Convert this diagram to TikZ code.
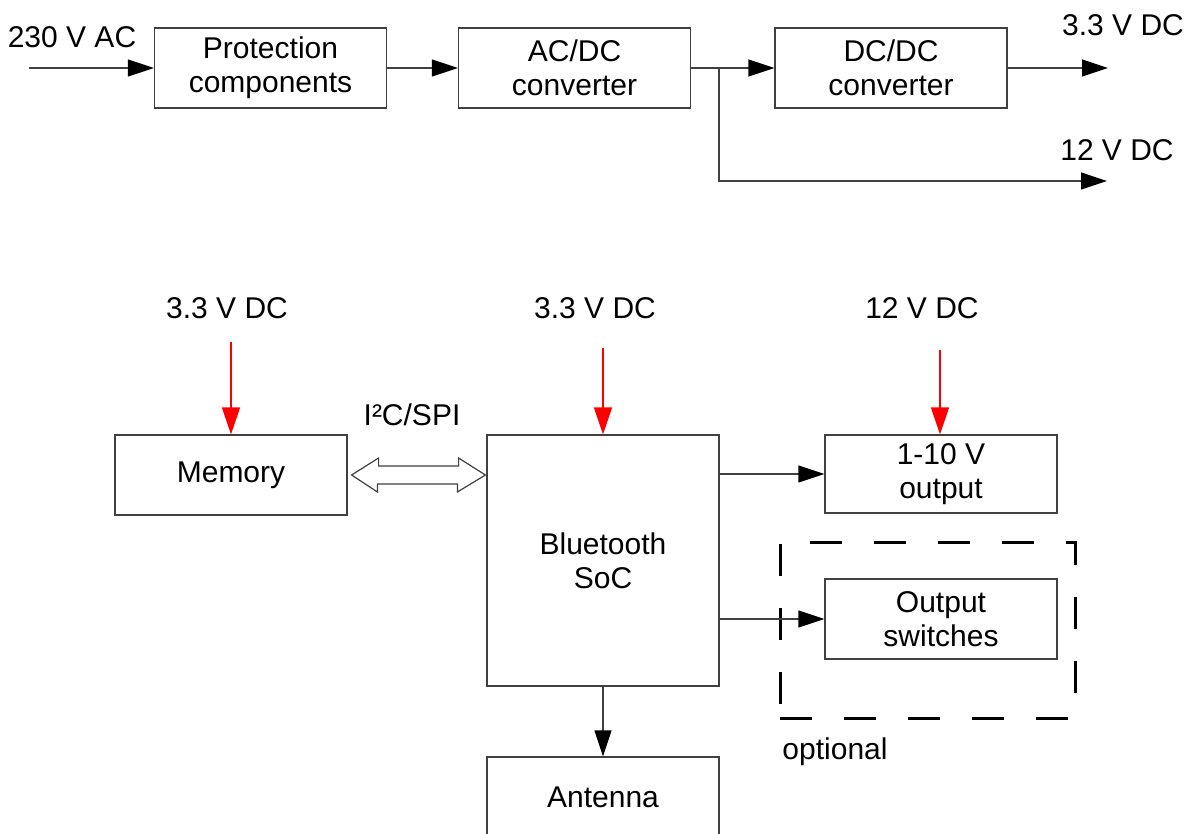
\documentclass[tikz,border=0pt]{standalone}
\usepackage{fontspec}
\setmainfont{Liberation Sans}
\usetikzlibrary{arrows.meta,calc}
\begin{document}
\begin{tikzpicture}[x=1pt,y=-1pt,
  box/.style={draw=black!75,line width=1.2pt,minimum width=232pt,minimum height=80pt,inner sep=0pt,align=center,font=\fontsize{30}{34}\selectfont},
  lbl/.style={font=\fontsize{30}{34}\selectfont,inner sep=0pt},
  conn/.style={draw=black!75,line width=1.2pt,-{Triangle[length=26pt,width=17pt,color=black]}},
  pwr/.style={draw=red,line width=1.5pt,-{Triangle[length=27pt,width=18pt,color=red]}},
  optbox/.style={draw=black,line width=3pt,dash pattern=on 32pt off 32pt,minimum width=295pt,minimum height=176pt,inner sep=0pt}]
\useasboundingbox (0,0) rectangle (1195,834);
\clip (0,0) rectangle (1195,834);
% top chain
\node[box] (prot) at (270.5,68) {Protection\\components};
\node[box] (acdc) at (574.5,68) {AC/DC\\converter};
\node[box] (dcdc) at (891,68) {DC/DC\\converter};
\node[lbl] (ac) at (72,37) {230 V AC};
\node[lbl] (l33a) at (1123,25) {3.3 V DC};
\node[lbl] (l12a) at (1117,150) {12 V DC};
\coordinate (acin) at (29,68);
\coordinate (split) at (719,68);
\coordinate (o12) at (1107,181);
\coordinate (o33) at (1108,68);
\draw[conn] (acin) -- (prot);
\draw[conn] (prot) -- (acdc);
\draw[conn] (acdc) -- (dcdc);
\draw[conn] (split) |- (o12);
\draw[conn] (dcdc) -- (o33);
% bottom
\node[box] (mem) at (231,475) {Memory};
\node[box,minimum height=251pt] (soc) at (603,560.5) {Bluetooth\\SoC};
\node[box,minimum height=78pt] (out) at (941,474) {1-10 V\\output};
\node[box] (sw) at (941,619) {Output\\switches};
\node[box] (ant) at (603,797) {Antenna};
\node[optbox] (opt) at (927.5,630) {};
\node[lbl] (optl) at (835,752) {optional};
\node[lbl] (l33b) at (227,308) {3.3 V DC};
\node[lbl] (l33c) at (595,308) {3.3 V DC};
\node[lbl] (l12b) at (922,308) {12 V DC};
\node[lbl] (bus) at (412,415) {I²C/SPI};
\coordinate (p1) at (231,342);
\coordinate (p2) at (603,348);
\coordinate (p3) at (940,350);
\draw[pwr] (p1) -- (mem);
\draw[pwr] (p2) -- (soc);
\draw[pwr] (p3) -- (p3 |- out.north);
\draw[conn] (soc.east |- out) -- (out);
\draw[conn] (soc.east |- sw) -- (sw);
\draw[conn] (soc) -- (ant);
% double arrow between memory and SoC
\draw[black!75,line width=1.2pt,fill=white]
  ($(mem.east)+(4,0)$) -- ++(27,-17) -- ++(0,8) -- ++(80,0) -- ++(0,-8)
  -- ($(soc.west |- mem.east)+(-1,0)$) -- ++(-28,17) -- ++(0,-8) -- ++(-80,0) -- ++(0,8) -- cycle;
\end{tikzpicture}
\end{document}
